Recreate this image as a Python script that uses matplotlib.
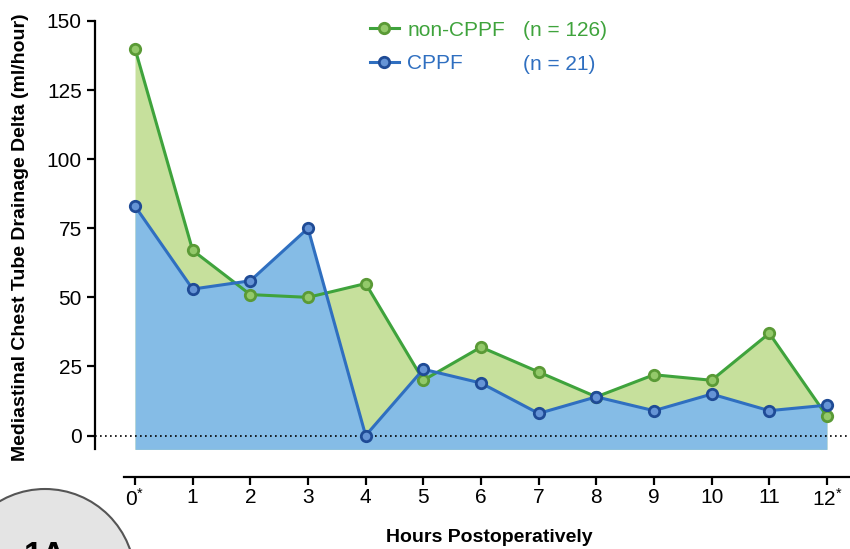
import matplotlib
matplotlib.use("Agg")
import matplotlib.pyplot as plt
from matplotlib.patches import Ellipse
from matplotlib.lines import Line2D

plt.rcParams['font.family'] = ['Liberation Sans', 'DejaVu Sans']
plt.rcParams['mathtext.fontset'] = 'custom'
plt.rcParams['mathtext.rm'] = 'Liberation Sans'
plt.rcParams['mathtext.it'] = 'Liberation Sans'

# data
hours = [0, 1, 2, 3, 4, 5, 6, 7, 8, 9, 10, 11, 12]
hour_labels = ["0$^{*}$", "1", "2", "3", "4", "5", "6", "7", "8", "9", "10", "11", "12$^{*}$"]
non_cppf = [140, 67, 51, 50, 55, 20, 32, 23, 14, 22, 20, 37, 7]
cppf = [83, 53, 56, 75, 0, 24, 19, 8, 14, 9, 15, 9, 11]
n_non_cppf = 126
n_cppf = 21

green_line, green_face, green_edge, green_fill = "#3fa33c", "#93c96a", "#5a9a36", "#c6e09c"
blue_line, blue_face, blue_edge, blue_fill = "#2f6fc0", "#6594d6", "#1f4b96", "#85bce6"

fig = plt.figure(figsize=(8.5, 5.49), dpi=100)
ax = fig.add_axes([95/850, 72/549, 755/850, 456/549])

base = -5
ax.fill_between(hours, non_cppf, base, color=green_fill, lw=0, zorder=1)
ax.fill_between(hours, cppf, base, color=blue_fill, lw=0, zorder=2)
ax.axhline(0, color='k', ls=(0, (1, 2)), lw=1.2, zorder=3)

ax.plot(hours, non_cppf, color=green_line, lw=2.2, marker='o', ms=7.5,
        mfc=green_face, mec=green_edge, mew=2, zorder=4)
ax.plot(hours, cppf, color=blue_line, lw=2.2, marker='o', ms=7.5,
        mfc=blue_face, mec=blue_edge, mew=2, zorder=5)

ax.set_xlim(-0.694, 12.4)
ax.set_ylim(-15, 150)
ax.set_yticks([0, 25, 50, 75, 100, 125, 150])
ax.set_xticks(hours)
ax.set_xticklabels(hour_labels)

for s in ['top', 'right']:
    ax.spines[s].set_visible(False)
ax.spines['left'].set_bounds(-5, 150)
ax.spines['bottom'].set_bounds(-0.19, 12.4)
for s in ['left', 'bottom']:
    ax.spines[s].set_linewidth(1.6)
ax.tick_params(direction='out', length=6, width=1.6, labelsize=15)
ax.tick_params(axis='x', pad=2)

ax.set_ylabel("Mediastinal Chest Tube Drainage Delta (ml/hour)",
              fontsize=14, fontweight='bold')
ax.yaxis.set_label_coords(-0.088, 0.526)
ax.set_xlabel("Hours Postoperatively", fontsize=14, fontweight='bold')
ax.xaxis.set_label_coords(0.522, -0.115)

# legend
handles = [
    Line2D([], [], color=green_line, lw=2.2, marker='o', ms=7.5, mfc=green_face, mec=green_edge, mew=2),
    Line2D([], [], color=blue_line, lw=2.2, marker='o', ms=7.5, mfc=blue_face, mec=blue_edge, mew=2),
]
leg = ax.legend(handles, ["non-CPPF", "CPPF"], loc='upper left',
                bbox_to_anchor=(351/850, 1 - 2/549), bbox_transform=fig.transFigure,
                frameon=False, fontsize=15, handlelength=1.4, handletextpad=0.4,
                labelspacing=0.7)
for t, c in zip(leg.get_texts(), [green_line, blue_line]):
    t.set_color(c)
fig.text(523/850, 1 - 30/549, "(n = %d)" % n_non_cppf, color=green_line,
         fontsize=15, va='center', ha='left')
fig.text(523/850, 1 - 65/549, "(n = %d)" % n_cppf, color=blue_line,
         fontsize=15, va='center', ha='left')

# panel badge in the lower-left corner
badge = Ellipse((45/850, -30/549), 180/850, 180/549, transform=fig.transFigure,
                facecolor="#e4e4e4", edgecolor="#555555", lw=1.5, clip_on=False)
fig.patches.append(badge)
fig.text(45/850, 8/549, "1A", fontsize=24, fontweight='bold', ha='center', va='top')

fig.savefig("out.png", dpi=100)
